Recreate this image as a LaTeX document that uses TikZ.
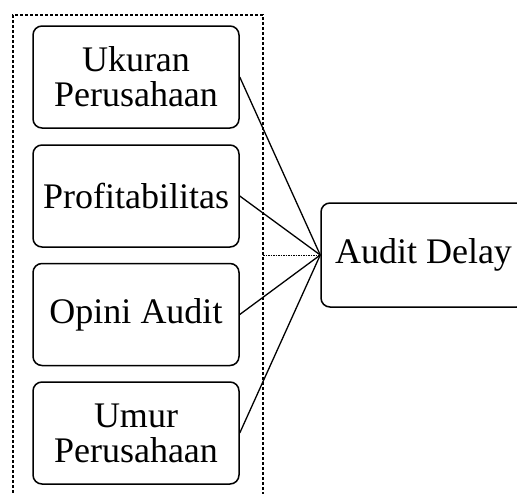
\documentclass[tikz,border=0pt]{standalone}
\usepackage{fontspec}
\setmainfont{Liberation Serif}
\begin{document}
\begin{tikzpicture}[x=1pt,y=-1pt,
  varbox/.style={draw,line width=1.5pt,rounded corners=9pt,minimum width=206pt,minimum height=102pt,inner sep=0pt,align=center,font=\fontsize{36}{35}\selectfont},
  link/.style={line width=1.3pt}]
\useasboundingbox (0,0) rectangle (517,493);
\clip (0,0) rectangle (517,493);
\draw[line width=1.2pt,dash pattern=on 3pt off 2pt] (263,510) -- (263,15) -- (13,15) -- (13,510);
\node[varbox] (uk) at (136,77) {Ukuran\\Perusahaan};
\node[varbox] (pr) at (136,196) {Profitabilitas};
\node[varbox] (op) at (136,314.5) {Opini Audit};
\node[varbox] (um) at (136,433) {Umur\\Perusahaan};
\node[varbox,minimum width=205pt,minimum height=104pt] (ad) at (423.5,255) {Audit Delay};
\coordinate (dr) at (263,255);
\draw[line width=1pt,dash pattern=on 1.5pt off 1pt] (dr) -- (ad.west);
\draw[link] (uk.east) -- (ad.west);
\draw[link] (pr.east) -- (ad.west);
\draw[link] (op.east) -- (ad.west);
\draw[link] (um.east) -- (ad.west);
\end{tikzpicture}
\end{document}
